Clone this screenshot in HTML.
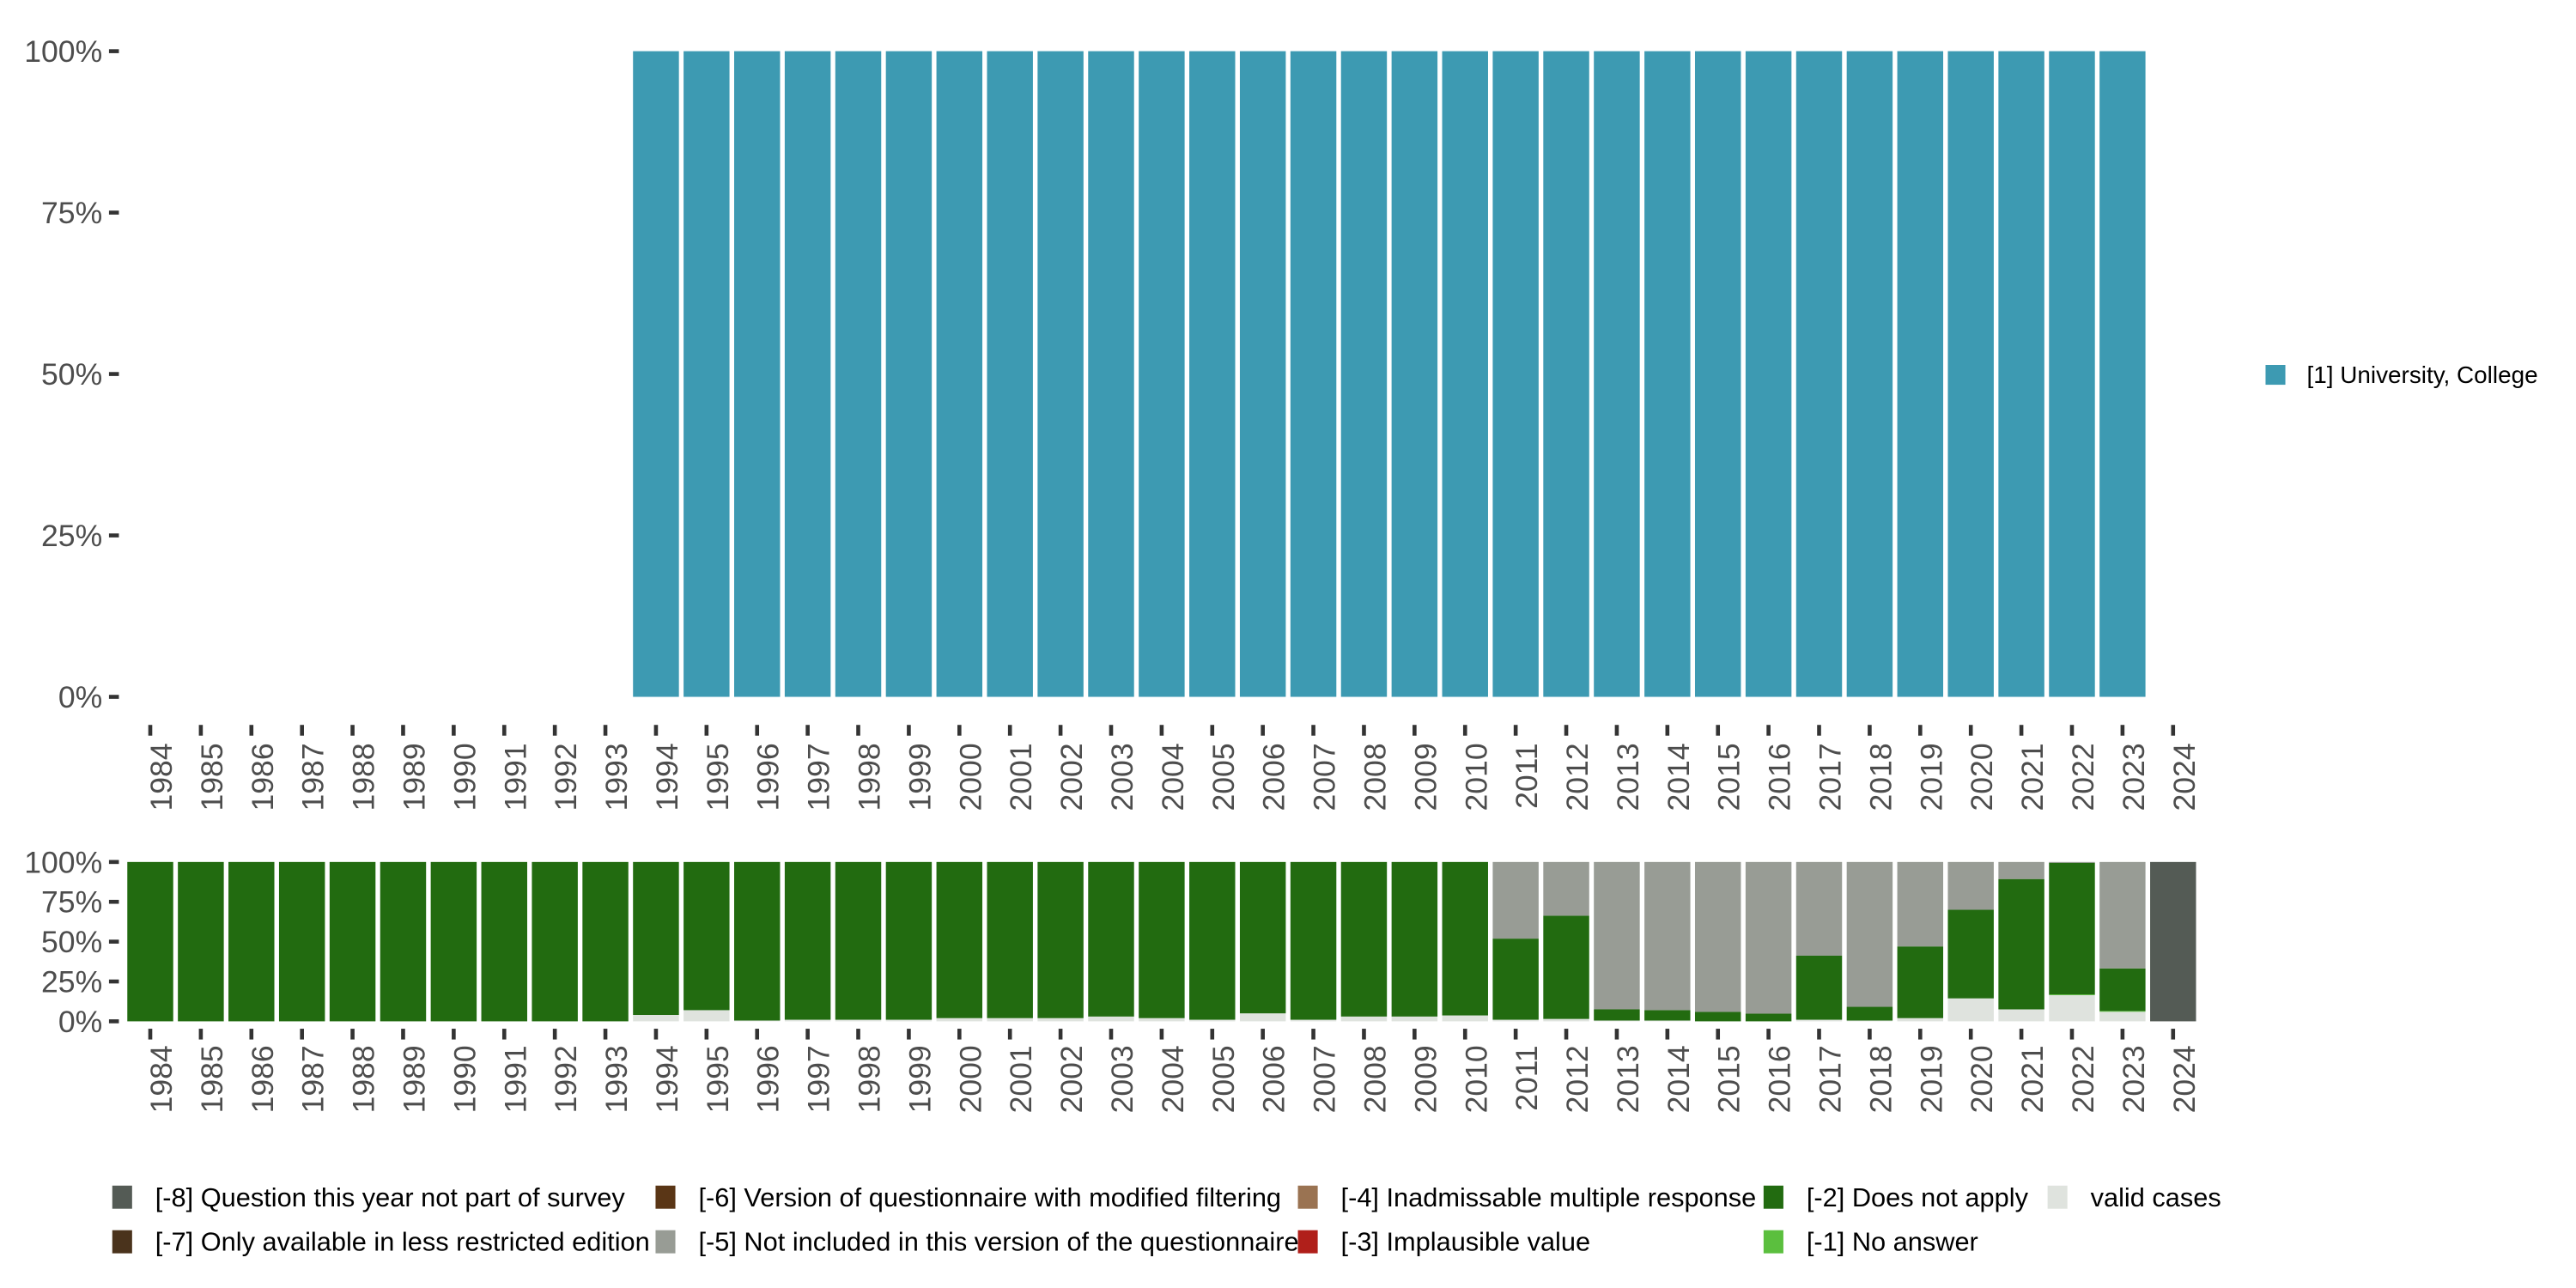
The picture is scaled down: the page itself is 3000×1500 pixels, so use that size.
<!DOCTYPE html>
<html><head><meta charset="utf-8">
<style>
html,body{margin:0;padding:0;background:#fff;}
svg{display:block;font-family:"Liberation Sans","DejaVu Sans",sans-serif;}
</style></head>
<body>
<svg id="chart" width="3000" height="1500" viewBox="0 0 1560 780" xmlns="http://www.w3.org/2000/svg">
<g id="top"></g>
<g id="bottom"></g>
<g id="legend-top">
  <rect x="1372" y="221" width="12" height="12" fill="#3d9ab2"/>
  <text x="1397" y="232" font-size="14.5" fill="#000">[1] University, College</text>
</g>
<g id="legend-bottom"></g>
</svg>
<script>
const years = [];
for (let y = 1984; y <= 2024; y++) years.push(String(y));
const yTicks = [0, 25, 50, 75, 100];
const yTickLabels = ["0%", "25%", "50%", "75%", "100%"];
// top panel: share of [1] University, College (null = no data)
const topValues = [null,null,null,null,null,null,null,null,null,null,
  100,100,100,100,100,100,100,100,100,100,100,100,100,100,100,100,100,100,100,100,
  100,100,100,100,100,100,100,100,100,100,null];
// bottom panel, stacked from bottom
const validCases = [0,0,0,0,0,0,0,0,0,0,4,7,0.5,1,1,1,2,2,2,3,2,1,5,1,3,3,3.7,1,1.5,0.5,0.5,0,0,1,0.5,2,14.4,7.5,16.4,6,0];
const noAnswer = [0,0,0,0,0,0,0,0,0,0,0,0,0,0,0,0,0,0,0,0,0,0,0,0,0,0,0,0,0,0,0,0,0,0,0,0,0,0,0.5,0.5,0];
const doesNotApply = [100,100,100,100,100,100,100,100,100,100,96,93,99.5,99,99,99,98,98,98,97,98,99,95,99,97,97,96.3,50.9,64.8,7,6.5,5.9,4.8,40.2,8.6,45,55.6,81.8,82.6,26.7,0];
const notIncluded = [0,0,0,0,0,0,0,0,0,0,0,0,0,0,0,0,0,0,0,0,0,0,0,0,0,0,0,48.1,33.7,92.5,93,94.1,95.2,58.8,90.9,53,30,10.7,0.5,66.8,0];
const notPartOfSurvey = [0,0,0,0,0,0,0,0,0,0,0,0,0,0,0,0,0,0,0,0,0,0,0,0,0,0,0,0,0,0,0,0,0,0,0,0,0,0,0,0,100];

const NS = "http://www.w3.org/2000/svg";
function mk(tag, attrs, parent) {
  const e = document.createElementNS(NS, tag);
  for (const k in attrs) e.setAttribute(k, attrs[k]);
  parent.appendChild(e);
  return e;
}
const x0 = 91, step = 30.625, bw = 27.8;
function xPos(i) { return x0 + i * step; }

function axes(g, yTop, yBot, tickY, labelY, prefix) {
  const ys = v => yBot - (v / 100) * (yBot - yTop);
  yTicks.forEach((t, i) => {
    const tk = mk("rect", {x: 66, y: ys(t) - 1.2, width: 6, height: 2.4, fill: "#333"}, g);
    
    
    const tx = mk("text", {x: 62, y: ys(t) + 6.5, "text-anchor": "end", "font-size": 18.5, fill: "#4d4d4d"}, g);
    tx.textContent = yTickLabels[i];
    
    
  });
  years.forEach((yr, i) => {
    const x = xPos(i);
    const tk = mk("rect", {x: x - 1.2, y: tickY, width: 2.4, height: 6.5, fill: "#333"}, g);
    
    
    const tx = mk("text", {x: 0, y: 0, "text-anchor": "end", "font-size": 18.5, fill: "#4d4d4d",
      transform: `translate(${x + 13},${labelY}) rotate(-90)`}, g);
    tx.textContent = yr;
    
    
  });
  return ys;
}

// top panel
const gt = document.getElementById("top");
const ysT = axes(gt, 31, 422, 439, 450, "top");
topValues.forEach((v, i) => {
  if (v == null) return;
  const r = mk("rect", {x: xPos(i) - bw / 2, y: ysT(v), width: bw, height: ysT(0) - ysT(v), fill: "#3d9ab2"}, gt);
  
  
});

// bottom panel
const gb = document.getElementById("bottom");
const ysB = axes(gb, 522, 618.5, 623, 633, "bottom");
const stackSeries = [
  {name: "valid-cases", vals: validCases, color: "#dfe3de"},
  {name: "no-answer", vals: noAnswer, color: "#5bbf3e"},
  {name: "does-not-apply", vals: doesNotApply, color: "#226b10"},
  {name: "not-included", vals: notIncluded, color: "#989c95"},
  {name: "not-part-of-survey", vals: notPartOfSurvey, color: "#545b55"}
];
years.forEach((yr, i) => {
  let cum = 0;
  stackSeries.forEach(s => {
    const v = s.vals[i];
    if (v <= 0) return;
    const r = mk("rect", {x: xPos(i) - bw / 2, y: ysB(cum + v), width: bw, height: ysB(cum) - ysB(cum + v), fill: s.color}, gb);
    
    
    cum += v;
  });
});

// bottom legend
const legendLabels = ["[-8] Question this year not part of survey","[-7] Only available in less restricted edition",
  "[-6] Version of questionnaire with modified filtering","[-5] Not included in this version of the questionnaire",
  "[-4] Inadmissable multiple response","[-3] Implausible value",
  "[-2] Does not apply","[-1] No answer","valid cases"];
const legendColors = ["#545b55","#4a331c","#5a3616","#989c95","#9a7352","#b01f1a","#226b10","#5bbf3e","#dfe3de"];
const legendCols = [68, 397, 786, 1068, 1240];
const legendRows = [725, 752];
const gl = document.getElementById("legend-bottom");
legendLabels.forEach((lab, i) => {
  const c = Math.floor(i / 2), r = i % 2;
  const sx = legendCols[c], sy = legendRows[r];
  const sw = mk("rect", {x: sx, y: sy - 7, width: 12, height: 14, fill: legendColors[i]}, gl);
  
  
  const t = mk("text", {x: sx + 26, y: sy + 5.5, "font-size": 16, fill: "#000"}, gl);
  t.textContent = lab;
  
  
});
</script>
</body></html>
